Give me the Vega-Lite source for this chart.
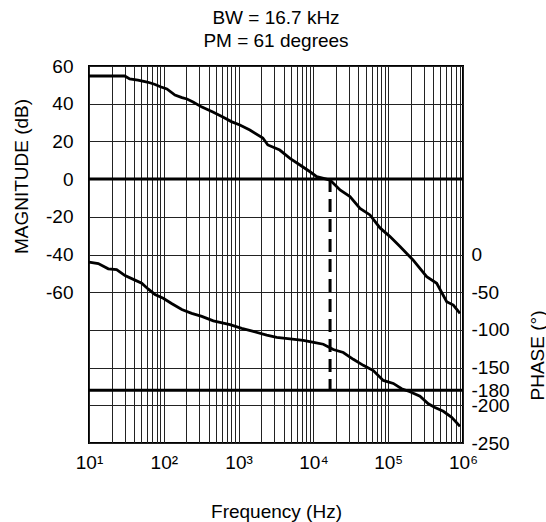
{
  "$schema": "https://vega.github.io/schema/vega-lite/v6.json",
  "width": 374,
  "height": 377,
  "autosize": {"type": "none"},
  "padding": {"left": 89, "top": 66, "right": 83, "bottom": 79},
  "background": "white",
  "config": {
    "font": "Liberation Sans",
    "view": {"stroke": "black", "strokeWidth": 2},
    "axis": {
      "labelFontSize": 19,
      "titleFontSize": 19,
      "titleFontWeight": "normal",
      "labelColor": "black",
      "titleColor": "black",
      "ticks": false,
      "domain": false,
      "gridColor": "#222222",
      "gridWidth": 1,
      "gridOpacity": 1,
      "labelOverlap": false
    }
  },
  "title": {
    "text": ["BW = 16.7 kHz", "PM = 61 degrees"],
    "fontSize": 19,
    "fontWeight": "normal",
    "font": "Liberation Sans",
    "color": "black",
    "lineHeight": 23,
    "offset": 6,
    "anchor": "middle"
  },
  "datasets": {
    "mag": [
      {"f": 10, "db": 54.7}, {"f": 30, "db": 54.7}, {"f": 35, "db": 53.1}, {"f": 45, "db": 52.5},
      {"f": 60, "db": 51.5}, {"f": 75, "db": 50.3}, {"f": 90, "db": 49}, {"f": 110, "db": 47.8},
      {"f": 141, "db": 44.6}, {"f": 175, "db": 43.2}, {"f": 204, "db": 42.5}, {"f": 246, "db": 40.9},
      {"f": 324, "db": 38.2}, {"f": 453, "db": 35.6}, {"f": 616, "db": 32.9}, {"f": 800, "db": 30.5},
      {"f": 1040, "db": 28.7}, {"f": 1414, "db": 26}, {"f": 2110, "db": 21.8}, {"f": 2460, "db": 18.1},
      {"f": 3550, "db": 15.4}, {"f": 4864, "db": 11.0}, {"f": 6620, "db": 7.5}, {"f": 9020, "db": 3.9},
      {"f": 11070, "db": 1.3}, {"f": 16700, "db": -0.5}, {"f": 22700, "db": -5.8}, {"f": 30850, "db": -9.3},
      {"f": 42000, "db": -15.5}, {"f": 57100, "db": -19}, {"f": 77700, "db": -25.9}, {"f": 105700, "db": -30.5},
      {"f": 143800, "db": -35.8}, {"f": 214600, "db": -42.9}, {"f": 327000, "db": -51.8}, {"f": 445000, "db": -55.3},
      {"f": 605000, "db": -65}, {"f": 742000, "db": -66.8}, {"f": 912000, "db": -71.2}
    ],
    "phase": [
      {"f": 10, "deg": -10}, {"f": 13.3, "deg": -12}, {"f": 18.1, "deg": -19}, {"f": 23.4, "deg": -20},
      {"f": 30.3, "deg": -28}, {"f": 41.2, "deg": -34}, {"f": 50.7, "deg": -38}, {"f": 62.2, "deg": -46},
      {"f": 76.2, "deg": -53}, {"f": 98.3, "deg": -58}, {"f": 127, "deg": -65}, {"f": 174, "deg": -73},
      {"f": 236, "deg": -78}, {"f": 322, "deg": -82}, {"f": 459, "deg": -88}, {"f": 564, "deg": -90},
      {"f": 767, "deg": -93}, {"f": 1099, "deg": -98}, {"f": 1574, "deg": -102}, {"f": 2376, "deg": -107},
      {"f": 3230, "deg": -110}, {"f": 4865, "deg": -112}, {"f": 7330, "deg": -114}, {"f": 10500, "deg": -117},
      {"f": 13560, "deg": -119}, {"f": 18450, "deg": -126}, {"f": 25100, "deg": -130}, {"f": 34150, "deg": -139},
      {"f": 46450, "deg": -147}, {"f": 63200, "deg": -154}, {"f": 85950, "deg": -167}, {"f": 117000, "deg": -171},
      {"f": 151300, "deg": -178}, {"f": 195500, "deg": -182}, {"f": 266000, "deg": -188}, {"f": 343500, "deg": -198},
      {"f": 422300, "deg": -203}, {"f": 545000, "deg": -208}, {"f": 705700, "deg": -216}, {"f": 912000, "deg": -228}
    ],
    "zeroDb": [{"db": 0}],
    "crossover": [{"f": 16700, "db": 0, "db2": -112}],
    "minus180": [{"deg": -180}]
  },
  "layer": [
    {
      "data": {"name": "mag"},
      "mark": {"type": "line", "color": "black", "strokeWidth": 2.8},
      "encoding": {
        "x": {
          "field": "f", "type": "quantitative",
          "scale": {"type": "log", "domain": [10, 1000000], "nice": false},
          "axis": {
            "title": "Frequency (Hz)",
            "grid": true,
            "values": [10,20,30,40,50,60,70,80,90,100,200,300,400,500,600,700,800,900,1000,2000,3000,4000,5000,6000,7000,8000,9000,10000,20000,30000,40000,50000,60000,70000,80000,90000,100000,200000,300000,400000,500000,600000,700000,800000,900000,1000000],
            "labelExpr": "datum.value == 10 ? '10¹' : datum.value == 100 ? '10²' : datum.value == 1000 ? '10³' : datum.value == 10000 ? '10⁴' : datum.value == 100000 ? '10⁵' : datum.value == 1000000 ? '10⁶' : ''",
            "labelFlush": false,
            "labelPadding": 10,
            "titlePadding": 30
          }
        },
        "y": {
          "field": "db", "type": "quantitative",
          "scale": {"domain": [-140, 60], "nice": false, "zero": false},
          "axis": {
            "orient": "left",
            "title": "MAGNITUDE (dB)",
            "grid": true,
            "values": [60, 40, 20, 0, -20, -40, -60, -80, -100, -120, -140],
            "labelExpr": "datum.value >= -60 ? '' + datum.value : ''",
            "labelPadding": 16,
            "titleAngle": -90,
            "titleX": -68,
            "titleY": 110,
            "titleAlign": "center",
            "titleBaseline": "middle"
          }
        }
      }
    },
    {
      "data": {"name": "zeroDb"},
      "mark": {"type": "rule", "color": "black", "strokeWidth": 3},
      "encoding": {
        "y": {"field": "db", "type": "quantitative", "scale": {"domain": [-140, 60], "nice": false, "zero": false}, "axis": null}
      }
    },
    {
      "data": {"name": "crossover"},
      "mark": {"type": "rule", "color": "black", "strokeWidth": 3, "strokeDash": [13, 7]},
      "encoding": {
        "x": {"field": "f", "type": "quantitative", "scale": {"type": "log", "domain": [10, 1000000], "nice": false}, "axis": {"title": "Frequency (Hz)"}},
        "y": {"field": "db", "type": "quantitative", "scale": {"domain": [-140, 60], "nice": false, "zero": false}, "axis": null},
        "y2": {"field": "db2"}
      }
    },
    {
      "data": {"name": "phase"},
      "mark": {"type": "line", "color": "black", "strokeWidth": 2.8},
      "encoding": {
        "x": {"field": "f", "type": "quantitative", "scale": {"type": "log", "domain": [10, 1000000], "nice": false}, "axis": {"title": "Frequency (Hz)"}},
        "y": {
          "field": "deg", "type": "quantitative",
          "scale": {"domain": [-250, 250], "nice": false, "zero": false},
          "axis": {
            "orient": "right",
            "title": "PHASE (°)",
            "grid": false,
            "values": [0, -50, -100, -150, -180, -200, -250],
            "labelExpr": "'' + datum.value",
            "labelPadding": 8,
            "titleAngle": -90,
            "titleX": 74,
            "titleY": 289,
            "titleAlign": "center",
            "titleBaseline": "middle"
          }
        }
      }
    },
    {
      "data": {"name": "minus180"},
      "mark": {"type": "rule", "color": "black", "strokeWidth": 3},
      "encoding": {
        "y": {"field": "deg", "type": "quantitative", "scale": {"domain": [-250, 250], "nice": false, "zero": false}, "axis": null}
      }
    }
  ],
  "resolve": {"scale": {"y": "independent"}}
}
